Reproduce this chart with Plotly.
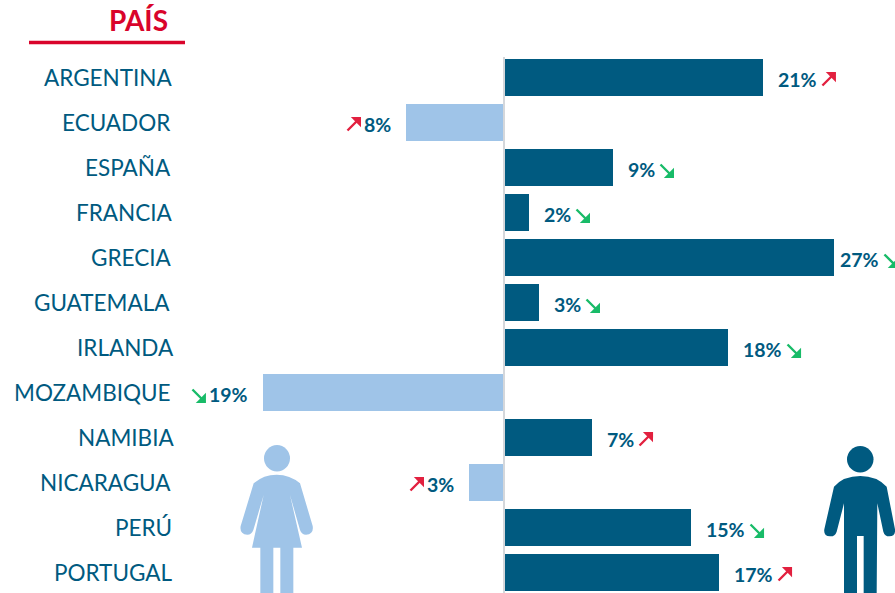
import plotly.graph_objects as go

paises = ["ARGENTINA", "ECUADOR", "ESPAÑA", "FRANCIA", "GRECIA", "GUATEMALA", "IRLANDA",
          "MOZAMBIQUE", "NAMIBIA", "NICARAGUA", "PERÚ", "PORTUGAL"]
valores = [21.0, -7.95, 8.84, 2.03, 26.76, 2.84, 18.17, -19.55, 7.14, -2.84, 15.17, 17.44]
etiquetas = ["21%", "8%", "9%", "2%", "27%", "3%", "18%", "19%", "7%", "3%", "15%", "17%"]
tendencia = ["up", "up", "down", "down", "down", "down", "down", "down", "up", "up", "down", "up"]

W, H = 895, 593
AZUL, CELESTE, ROJO, VERDE = "#005a80", "#9fc4e8", "#d9042b", "#00b060"
FLECHA_ROJA, FLECHA_VERDE = "#e2203f", "#18bb68"
PX_POR_PCT = 12.33
X0, Y0, PASO = 504, 77.5, 45
label_right = [175, 172, 173, 175, 174, 171.5, 176, 173, 176, 173, 174, 174]
gap = [13] * 12
gap[4] = 4


def fx(p):
    return p / W


def fy(p):
    return 1 - p / H


def to_path(cmds):
    out = []
    for c in cmds:
        out.append(c[0] + " ".join(f"{fx(c[i]):.5f},{fy(c[i + 1]):.5f}" for i in range(1, len(c), 2)))
    return " ".join(out) + " Z"


def zoompts(cmds, ox, oy):
    res = []
    for c in cmds:
        n = [c[0]]
        for i in range(1, len(c), 2):
            n += [ox + c[i] / 3, oy + c[i + 1] / 3]
        res.append(n)
    return res


mujer = [
    ("M", 170, 134), ("Q", 210, 134, 240, 160), ("L", 278, 288), ("Q", 282, 312, 258, 314),
    ("Q", 245, 314, 240, 300), ("L", 210, 195), ("L", 246, 353), ("L", 220, 353), ("L", 220, 490),
    ("L", 181, 490), ("L", 181, 353), ("L", 160, 353), ("L", 160, 490), ("L", 121, 490),
    ("L", 121, 353), ("L", 96, 353), ("L", 131, 195), ("L", 100, 300), ("Q", 95, 314, 82, 314),
    ("Q", 58, 312, 62, 288), ("L", 101, 160), ("Q", 130, 134, 170, 134)]
hombre = [
    ("M", 181, 138), ("Q", 230, 138, 260, 170), ("L", 285, 298), ("Q", 287, 318, 268, 319),
    ("Q", 254, 319, 250, 305), ("L", 232, 220), ("L", 230, 490), ("L", 191, 490), ("L", 191, 318),
    ("L", 171, 318), ("L", 171, 490), ("L", 132, 490), ("L", 132, 220), ("L", 110, 305),
    ("Q", 105, 320, 90, 319), ("Q", 70, 318, 73, 298), ("L", 102, 170), ("Q", 130, 138, 181, 138)]

fig = go.Figure()
fig.add_bar(y=paises, x=valores, orientation="h", width=37 / PASO,
            marker=dict(color=[AZUL if v > 0 else CELESTE for v in valores], line_width=0),
            showlegend=False, hoverinfo="skip")

shapes = [
    dict(type="line", xref="paper", yref="paper", x0=fx(504), x1=fx(504), y0=fy(57), y1=fy(593),
         line=dict(color="#d4d7db", width=2), layer="above"),
    dict(type="line", xref="paper", yref="paper", x0=fx(29), x1=fx(185), y0=fy(42.5), y1=fy(42.5),
         line=dict(color=ROJO, width=3.5)),
    dict(type="path", xref="paper", yref="paper", path=to_path(zoompts(mujer, 220, 430)),
         fillcolor=CELESTE, line_width=0),
    dict(type="circle", xref="paper", yref="paper", x0=fx(264), x1=fx(290), y0=fy(445), y1=fy(471.5),
         fillcolor=CELESTE, line_width=0),
    dict(type="path", xref="paper", yref="paper", path=to_path(zoompts(hombre, 800, 430)),
         fillcolor=AZUL, line_width=0),
    dict(type="circle", xref="paper", yref="paper", x0=fx(847), x1=fx(873.5), y0=fy(446), y1=fy(472.5),
         fillcolor=AZUL, line_width=0),
]

ann = [dict(text="<b>PAÍS</b>", xref="paper", yref="paper", x=fx(170), y=fy(20.5), xanchor="right",
            yanchor="middle", showarrow=False, font=dict(family="Lato", size=28, color=ROJO))]

for i, (p, v, e, t) in enumerate(zip(paises, valores, etiquetas, tendencia)):
    ann.append(dict(text=p, xref="paper", yref="y", x=fx(label_right[i]), y=p, xanchor="right",
                    yanchor="middle", showarrow=False, yshift=0,
                    font=dict(family="Lato", size=22.5, color=AZUL)))
    tw = 39 if len(e) == 3 else 27
    ann.append(dict(text=f"<b>{e}</b>", xref="x", yref="y", x=v, y=p, showarrow=False,
                    xanchor="left" if v > 0 else "right", yanchor="middle",
                    xshift=gap[i] if v > 0 else -12.5, yshift=-1.5,
                    font=dict(family="Lato", size=19.5, color=AZUL)))
    col = FLECHA_ROJA if t == "up" else FLECHA_VERDE
    if v > 0:
        start = gap[i] + 2 + tw + 4
    else:
        start = -15 - tw - 4 - 14
    head_dx = start + 15
    head_dy = -8 if t == "up" else 8
    ann.append(dict(text="", xref="x", yref="y", x=v, y=p, xshift=head_dx, yshift=-2.5 - head_dy,
                    showarrow=True, ax=-15, ay=15 if t == "up" else -15, axref="pixel", ayref="pixel",
                    arrowhead=1, arrowsize=1, arrowwidth=2.4, arrowcolor=col, standoff=0, startstandoff=0))

fig.update_layout(
    width=W, height=H, margin=dict(l=0, r=0, t=0, b=0), autosize=False,
    paper_bgcolor="white", plot_bgcolor="white", showlegend=False, bargap=0,
    xaxis=dict(visible=False, range=[-X0 / PX_POR_PCT, (W - X0) / PX_POR_PCT], fixedrange=True),
    yaxis=dict(visible=False, type="category", categoryorder="array", categoryarray=paises,
               range=[(H - Y0) / PASO, -Y0 / PASO], fixedrange=True),
    shapes=shapes, annotations=ann,
)
fig.write_html("out.html", config=dict(displayModeBar=False),
               post_script="document.body.style.margin='0';document.documentElement.style.overflow='hidden';")
